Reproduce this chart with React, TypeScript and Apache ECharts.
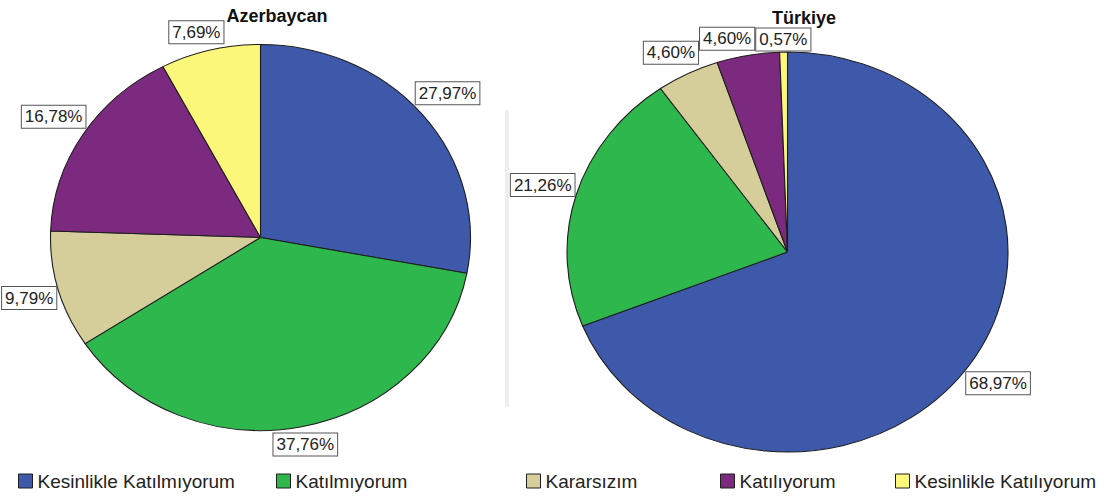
import React, { useEffect, useRef } from "react";
import * as echarts from "echarts";

const categories = [
  "Kesinlikle Katılmıyorum",
  "Katılmıyorum",
  "Kararsızım",
  "Katılıyorum",
  "Kesinlikle Katılıyorum",
];
const azerbaycanValues = [27.97, 37.76, 9.79, 16.78, 7.69];
const turkiyeValues = [68.97, 21.26, 4.6, 4.6, 0.57];
const titles = ["Azerbaycan", "Türkiye"];
const sliceColors = ["#3e58aa", "#2eb74c", "#d5ce9b", "#7c2a7f", "#fbf77a"];

// layout constants (the reference pies are slightly elliptical)
const PIES = [
  { cx: 260.5, cy: 237.5, rx: 210, ry: 193, titleX: 277, titleY: 7 },
  { cx: 787.5, cy: 252, rx: 220.5, ry: 200, titleX: 804, titleY: 9 },
];
const LEGEND_LEFT = [18, 276, 526, 720, 895];
const FONT = "'Liberation Sans', Arial, sans-serif";
const LABEL_SIZE = 17;
const TITLE_SIZE = 18;
const W = 1104;
const H = 498;

const fmt = (v: number) => v.toFixed(2).replace(".", ",") + "%";
const seriesValues = [azerbaycanValues, turkiyeValues];

let measureCtx: CanvasRenderingContext2D | null = null;
const measure = (t: string, font = `${LABEL_SIZE}px ${FONT}`) => {
  if (!measureCtx) measureCtx = document.createElement("canvas").getContext("2d");
  if (!measureCtx) return t.length * 9;
  measureCtx.font = font;
  return measureCtx.measureText(t).width;
};

function layoutLabels(si: number, padW: number, h: number) {
  const vals = seriesValues[si];
  const total = vals.reduce((a, b) => a + b, 0);
  const p = PIES[si];
  const tw = measure(titles[si], `bold ${TITLE_SIZE}px ${FONT}`);
  const title = { x0: p.titleX - tw / 2, x1: p.titleX + tw / 2, y0: p.titleY, y1: p.titleY + 16 };
  let cum = 0;
  const items = vals.map((v) => {
    const mid = ((cum + v / 2) / total) * Math.PI * 2;
    cum += v;
    const sx = Math.sin(mid);
    const sy = -Math.cos(mid);
    const w = measure(fmt(v)) + padW;
    const ex = p.cx + p.rx * sx;
    const ey = p.cy + p.ry * sy;
    const d = (Math.abs(sx) * w) / 2 + (Math.abs(sy) * h) / 2;
    return { x: ex + sx * d, y: ey + sy * d, w };
  });
  // keep labels clear of the title
  items.forEach((it) => {
    const overlapX = it.x + it.w / 2 > title.x0 && it.x - it.w / 2 < title.x1;
    const overlapY = it.y - h / 2 < title.y1 && it.y + h / 2 > title.y0;
    if (overlapX && overlapY) {
      if (it.x < p.titleX) it.x = Math.min(it.x, title.x0 - it.w / 2 - 2);
      else it.x = Math.max(it.x, title.x1 + it.w / 2 + 2);
    }
  });
  for (let j = items.length - 2; j >= 0; j--) {
    const a = items[j];
    const b = items[j + 1];
    const need = (a.w + b.w) / 2;
    if (Math.abs(a.x - b.x) < need && Math.abs(a.y - b.y) < h) {
      a.x = a.x <= b.x ? b.x - need : b.x + need;
    }
  }
  return items;
}

export default function App() {
  const refA0 = useRef<HTMLDivElement>(null);
  const refA1 = useRef<HTMLDivElement>(null);
  const refB = useRef<HTMLDivElement>(null);

  useEffect(() => {
    const charts: echarts.ECharts[] = [];
    // slice layers (each scaled vertically into an ellipse by CSS)
    [refA0, refA1].forEach((r, si) => {
      if (!r.current) return;
      const p = PIES[si];
      const k = p.ry / p.rx;
      const c = echarts.init(r.current, null, { renderer: "svg" });
      charts.push(c);
      c.setOption({
        animation: false,
        series: [
          {
            type: "pie",
            name: titles[si],
            center: [p.cx, p.cy / k],
            radius: p.rx,
            startAngle: 90,
            clockwise: true,
            silent: true,
            emphasis: { disabled: true },
            itemStyle: { borderColor: "#1e1e1e", borderWidth: 1.1 },
            label: { show: false },
            labelLine: { show: false },
            data: categories.map((cat, i) => ({
              name: cat,
              value: seriesValues[si][i],
              itemStyle: { color: sliceColors[i] },
            })),
          },
        ],
      });
    });

    // text layer: titles, labels, legend
    if (refB.current) {
      const chart = echarts.init(refB.current, null, { renderer: "svg" });
      charts.push(chart);
      const makeLayout = (si: number) => (params: any) => {
        const rect = params.labelRect;
        const own = measure(params.text || "");
        const padW = rect.width - own;
        const items = layoutLabels(si, padW, rect.height);
        const it = items[params.dataIndex];
        return { x: it.x, y: it.y, align: "center", verticalAlign: "middle" };
      };
      chart.setOption({
        animation: false,
        title: titles.map((t, i) => ({
          text: t,
          left: PIES[i].titleX,
          top: PIES[i].titleY,
          textAlign: "center",
          padding: 0,
          textStyle: {
            fontFamily: FONT,
            fontSize: TITLE_SIZE,
            fontWeight: "bold",
            color: "#111",
          },
        })),
        legend: categories.map((c, i) => ({
          data: [c],
          left: LEGEND_LEFT[i],
          top: 471,
          padding: 0,
          itemWidth: 14,
          itemHeight: 14,
          icon: "rect",
          selectedMode: false,
          itemStyle: { borderColor: "#1e1e1e", borderWidth: 1 },
          textStyle: {
            fontFamily: FONT,
            fontSize: 19,
            color: "#222",
            lineHeight: 20,
          },
        })),
        graphic: [
          {
            type: "line",
            shape: { x1: 507, y1: 110, x2: 507, y2: 407 },
            style: { stroke: "#eeeeee", lineWidth: 4 },
            silent: true,
            z: -1,
          },
        ],
        series: seriesValues.map((vals, si) => ({
          type: "pie",
          name: titles[si],
          center: [PIES[si].cx, PIES[si].cy],
          radius: 0.5,
          startAngle: 90,
          clockwise: true,
          avoidLabelOverlap: false,
          silent: true,
          emphasis: { disabled: true },
          itemStyle: { borderWidth: 0 },
          label: {
            show: true,
            position: "outside",
            formatter: (p: any) => fmt(p.value),
            color: "#222",
            fontFamily: FONT,
            fontSize: LABEL_SIZE,
            lineHeight: 20,
            backgroundColor: "#ffffff",
            borderColor: "#555",
            borderWidth: 1,
            padding: [1, 3, 1, 3],
          },
          labelLine: { show: false },
          labelLayout: makeLayout(si),
          data: categories.map((c, i) => ({
            name: c,
            value: vals[i],
            itemStyle: { color: sliceColors[i] },
          })),
        })),
      });
    }
    return () => charts.forEach((c) => c.dispose());
  }, []);

  const layer = (si: number): React.CSSProperties => {
    const k = PIES[si].ry / PIES[si].rx;
    return {
      position: "fixed",
      left: 0,
      top: 0,
      width: W,
      height: Math.ceil(H / k),
      transform: `scaleY(${k})`,
      transformOrigin: "0 0",
    };
  };

  return (
    <div style={{ position: "fixed", left: 0, top: 0, width: W, height: H, background: "#fff", overflow: "hidden" }}>
      <div ref={refA0} style={layer(0)} />
      <div ref={refA1} style={layer(1)} />
      <div ref={refB} style={{ position: "fixed", left: 0, top: 0, width: W, height: H }} />
    </div>
  );
}
